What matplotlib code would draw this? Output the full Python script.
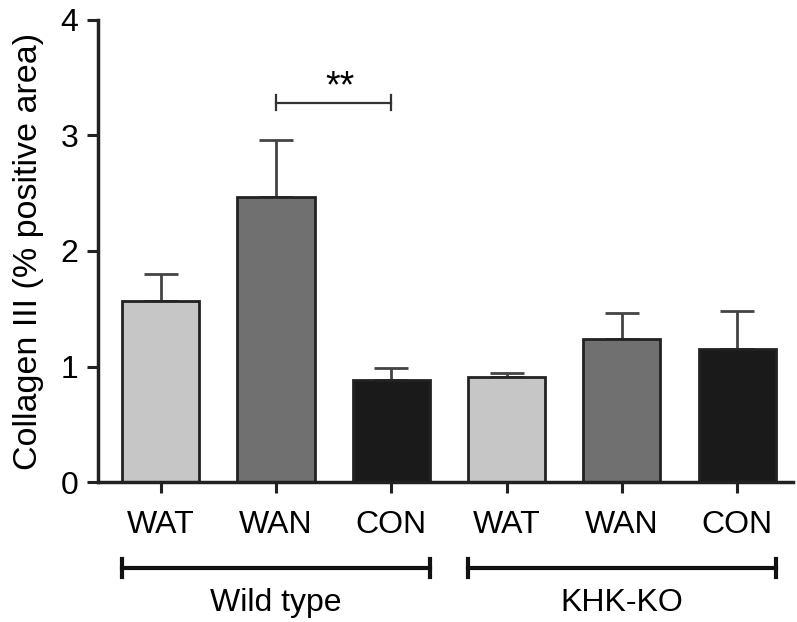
import numpy as np
import matplotlib as mpl
mpl.use('Agg')
import matplotlib.pyplot as plt

plt.rcParams['font.family'] = ['Liberation Sans', 'DejaVu Sans']

# Data
conditions = ['WAT', 'WAN', 'CON', 'WAT', 'WAN', 'CON']
groups = ['Wild type', 'KHK-KO']
means = [1.57, 2.47, 0.88, 0.91, 1.24, 1.15]
sem = [0.23, 0.49, 0.11, 0.035, 0.22, 0.33]
colors = ['#c6c6c6', '#707070', '#1a1a1a', '#c6c6c6', '#707070', '#1a1a1a']

xpos = np.arange(len(means))
width = 0.67
fs = 23

fig = plt.figure(figsize=(7.97, 6.22), dpi=100)
ax = fig.add_axes([0.123, 0.225, 0.872, 0.743])

ax.bar(xpos, means, width=width, color=colors, edgecolor='#222222', linewidth=2, zorder=2)
ax.errorbar(xpos, means, yerr=[np.zeros(len(sem)), sem], fmt='none', ecolor='#444444',
            elinewidth=2, capsize=12, capthick=2, zorder=1)

ax.set_ylim(0, 4)
ax.set_xlim(-0.545, 5.485)
ax.set_yticks([0, 1, 2, 3, 4])
ax.set_xticks(xpos)
ax.set_xticklabels(conditions)
ax.tick_params(axis='both', labelsize=fs, width=2.2, length=8, direction='out', color='#222222')
ax.tick_params(axis='x', pad=12)
ax.tick_params(axis='y', pad=6)
for side in ['top', 'right']:
    ax.spines[side].set_visible(False)
for side in ['left', 'bottom']:
    ax.spines[side].set_linewidth(2.5)
    ax.spines[side].set_color('#222222')
ax.set_ylabel('Collagen III (% positive area)', fontsize=24.5, labelpad=12)

# significance bracket WAN vs CON (wild type)
ax.plot([1, 2], [3.28, 3.28], color='#333333', lw=1.6, clip_on=False)
ax.plot([1, 1], [3.22, 3.35], color='#333333', lw=1.6)
ax.plot([2, 2], [3.22, 3.35], color='#333333', lw=1.6)
ax.text(1.55, 3.42, '**', ha='center', va='center', fontsize=27)

# group brackets below axis
trans = ax.get_xaxis_transform()
spans = [(0 - width / 2, 2 + width / 2), (3 - width / 2, 5 + width / 2)]
for name, (x0, x1) in zip(groups, spans):
    ax.plot([x0, x1], [-0.186, -0.186], color='#111111', lw=3, transform=trans, clip_on=False)
    ax.plot([x0, x0], [-0.166, -0.206], color='#111111', lw=3, transform=trans, clip_on=False)
    ax.plot([x1, x1], [-0.166, -0.206], color='#111111', lw=3, transform=trans, clip_on=False)
    ax.text((x0 + x1) / 2, -0.262, name, ha='center', va='center', fontsize=fs, transform=trans)

fig.savefig('out.png', dpi=100)
